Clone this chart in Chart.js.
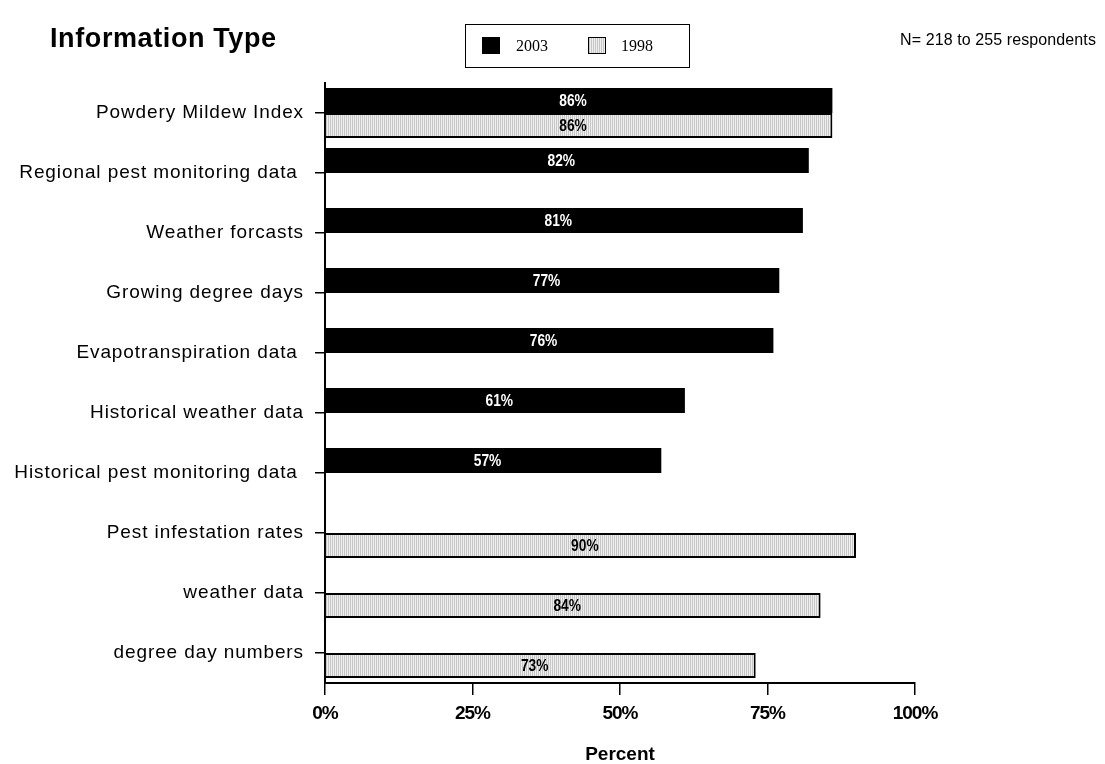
<!DOCTYPE html>
<html>
<head>
<meta charset="utf-8">
<script src="https://cdn.jsdelivr.net/npm/chart.js@4/dist/chart.umd.min.js"></script>
<style>
  html, body { margin: 0; padding: 0; background: #fff; }
  #wrap { position: relative; width: 1105px; height: 764px; }
  #title { position: absolute; left: 50px; top: 23px; font: bold 27px "Liberation Sans", Arial, sans-serif; letter-spacing: 0.6px; color: #000; }
  #note { position: absolute; left: 900px; top: 31px; font: 16px "Liberation Sans", Arial, sans-serif; letter-spacing: 0.1px; color: #000; white-space: nowrap; }
  #legend { position: absolute; left: 465px; top: 24px; width: 223px; height: 42px; border: 1.5px solid #000; box-sizing: content-box; }
  .sw { position: absolute; top: 12px; width: 18px; height: 17px; box-sizing: border-box; }
  .lt { position: absolute; top: 12px; font: 16px "Liberation Serif", "Times New Roman", serif; }
</style>
</head>
<body>
<div id="wrap">
  <canvas id="infoChart" width="1105" height="764"></canvas>
  <div id="title">Information Type</div>
  <div id="legend">
    <div class="sw" style="left:16px; background:#000;"></div>
    <div class="lt" style="left:50px;">2003</div>
    <div class="sw" style="left:122px; border:1.5px solid #000; background:repeating-linear-gradient(90deg,#c6c6c6 0 1px,#efefef 1px 2px);"></div>
    <div class="lt" style="left:155px;">1998</div>
  </div>
  <div id="note">N= 218 to 255 respondents</div>
</div>
<script>
const categories = [
    'Powdery Mildew Index',
    'Regional pest monitoring data ',
    'Weather forcasts',
    'Growing degree days',
    'Evapotranspiration data ',
    'Historical weather data',
    'Historical pest monitoring data ',
    'Pest infestation rates',
    'weather data',
    'degree day numbers'
];
const values2003 = [86, 82, 81, 77, 76, 61, 57, null, null, null];
const values1998 = [86, null, null, null, null, null, null, 90, 84, 73];
const xTicks = [0, 25, 50, 75, 100];

// fine vertical stripes for the 1998 bars
function stripePattern() {
    const c = document.createElement('canvas');
    c.width = 2;
    c.height = 4;
    const g = c.getContext('2d');
    g.fillStyle = '#efefef';
    g.fillRect(0, 0, 2, 4);
    g.fillStyle = '#c6c6c6';
    g.fillRect(0, 0, 1, 4);
    return g.createPattern(c, 'repeat');
}

const ctx = document.getElementById('infoChart').getContext('2d');

// writes the percentage in the middle of each bar, slightly condensed
const barLabels = {
    id: 'barLabels',
    afterDatasetsDraw(chart) {
        const c = chart.ctx;
        chart.data.datasets.forEach((ds, i) => {
            const meta = chart.getDatasetMeta(i);
            meta.data.forEach((bar, j) => {
                const v = ds.data[j];
                if (v === null) return;
                c.save();
                c.translate((bar.x + bar.base) / 2 - 6, bar.y + 1);
                c.scale(0.86, 1);
                c.font = 'bold 16px "Liberation Sans", Arial, sans-serif';
                c.textAlign = 'center';
                c.textBaseline = 'middle';
                c.fillStyle = i === 0 ? '#fff' : '#000';
                c.fillText(v + '%', 0, 0);
                c.restore();
            });
        });
    }
};

// tick labels drawn with a custom letter spacing
function spaceLabels(s, spacing) {
    if (s._spaced) return;
    const draw = s.drawLabels.bind(s);
    s.drawLabels = area => {
        s.ctx.letterSpacing = spacing;
        draw(area);
        s.ctx.letterSpacing = '0px';
    };
    s._spaced = true;
}

const infoChart = new Chart(ctx, {
    type: 'bar',
    data: {
        labels: categories,
        datasets: [{
            label: '2003',
            data: values2003,
            backgroundColor: '#000',
            borderWidth: 0
        }, {
            label: '1998',
            data: values1998,
            backgroundColor: stripePattern(),
            borderColor: '#000',
            borderWidth: 2,
            borderSkipped: 'left'
        }]
    },
    options: {
        indexAxis: 'y',
        responsive: false,
        animation: false,
        datasets: {
            bar: { categoryPercentage: 0.83, barPercentage: 1 }
        },
        layout: { padding: { top: 83, right: 190, left: 0, bottom: 0 } },
        plugins: {
            legend: { display: false },
            tooltip: { enabled: false }
        },
        scales: {
            x: {
                min: 0,
                max: 100,
                afterFit: s => { s.height = 81; spaceLabels(s, '-1px'); },
                afterBuildTicks: s => { s.ticks = xTicks.map(v => ({ value: v })); },
                grid: { drawOnChartArea: false, drawTicks: true, tickLength: 12, color: '#000', lineWidth: 1.5 },
                border: { display: true, color: '#000', width: 2 },
                ticks: {
                    padding: 7,
                    color: '#000',
                    font: { family: '"Liberation Sans", Arial, sans-serif', size: 19, weight: 'bold' },
                    callback: v => v + '%'
                },
                title: {
                    display: true,
                    text: 'Percent',
                    color: '#000',
                    padding: { top: 0, bottom: 0 },
                    font: { family: '"Liberation Sans", Arial, sans-serif', size: 19, weight: 'bold', lineHeight: 1 }
                }
            },
            y: {
                afterFit: s => { s.width = 325; spaceLabels(s, '0.9px'); },
                grid: { drawOnChartArea: false, drawTicks: true, offset: false, tickLength: 10, color: '#000', lineWidth: 1.5 },
                border: { display: true, color: '#000', width: 2 },
                ticks: {
                    padding: 11,
                    color: '#000',
                    font: { family: '"Liberation Sans", Arial, sans-serif', size: 19 }
                }
            }
        }
    },
    plugins: [barLabels]
});
</script>
</body>
</html>
